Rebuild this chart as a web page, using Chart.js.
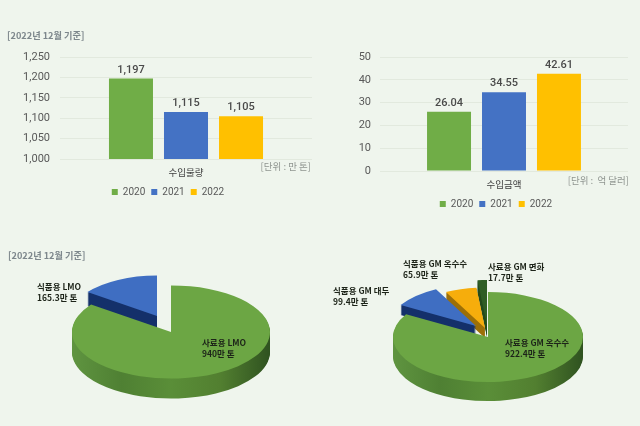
<!DOCTYPE html>
<html>
<head>
<meta charset="utf-8">
<script src="https://cdn.jsdelivr.net/npm/chart.js@4"></script>
<style>
  html, body { margin: 0; padding: 0; background: #eff5ed; }
  #page { position: relative; width: 640px; height: 426px; overflow: hidden; background: #eff5ed;
          font-family: "Noto Sans CJK KR", "Noto Sans", sans-serif; }
  canvas { position: absolute; }
  .txt { position: absolute; white-space: pre; line-height: 11px; }
  .head { font-size: 9.2px; font-weight: 700; color: #7d878c; }
  .unit { font-size: 9.5px; color: #8f9590; }
  .pie { font-size: 8.5px; font-weight: 700; color: #1d2419; }
</style>
</head>
<body>
<div id="page">
  <canvas id="volume" width="320" height="167" style="left:0;top:40px"></canvas>
  <canvas id="amount" width="320" height="189" style="left:320px;top:30px"></canvas>
  <canvas id="pieLmo" width="260" height="260" style="left:41px;top:202px"></canvas>
  <canvas id="pieGm" width="260" height="260" style="left:358px;top:207px"></canvas>
</div>
<script>
const years = ['2020', '2021', '2022'];
const yearColors = ['#70ad47', '#4472c4', '#ffc000'];

const volumeCategory = ['수입물량'];
const volumeValues = [1197, 1115, 1105];
const volumeLabels = ['1,197', '1,115', '1,105'];
const volumeTicks = ['1,000', '1,050', '1,100', '1,150', '1,200', '1,250'];

const amountCategory = ['수입금액'];
const amountValues = [26.04, 34.55, 42.61];
const amountLabels = ['26.04', '34.55', '42.61'];

const lmoNames = ['사료용 LMO', '식품용 LMO'];
const lmoTexts = ['940만 톤', '165.3만 톤'];
const lmoValues = [940, 165.3];

const gmNames = ['사료용 GM 옥수수', '식품용 GM 대두', '식품용 GM 옥수수', '사료용 GM 면화'];
const gmTexts = ['922.4만 톤', '99.4만 톤', '65.9만 톤', '17.7만 톤'];
const gmValues = [922.4, 99.4, 65.9, 17.7];

const labelColor = '#595959';
const numFont = 'Roboto, "Noto Sans CJK KR", sans-serif';

// value text above each bar
const barValues = {
  id: 'barValues',
  afterDatasetsDraw(chart, args, opts) {
    const ctx = chart.ctx;
    ctx.save();
    ctx.font = '500 11px ' + numFont;
    ctx.fillStyle = '#4a4a4a';
    ctx.textAlign = 'center';
    ctx.textBaseline = 'bottom';
    chart.data.datasets.forEach((ds, i) => {
      const bar = chart.getDatasetMeta(i).data[0];
      ctx.fillText(opts.texts[i], bar.x, bar.y - 3);
    });
    ctx.restore();
  }
};

// legend is not centred on the plot in the original, so move it sideways
const legendShift = {
  id: 'legendShift',
  afterLayout(chart, args, opts) {
    chart.legend.left += opts.x;
    chart.legend.right += opts.x;
  }
};

function barChart(id, category, values, texts, yOpts, barWidthShare, legendX, padTop, padRight) {
  return new Chart(document.getElementById(id), {
    type: 'bar',
    data: {
      labels: category,
      datasets: years.map((y, i) => ({
        label: y,
        data: [values[i]],
        backgroundColor: yearColors[i],
        categoryPercentage: barWidthShare,
        barPercentage: 0.8
      }))
    },
    options: {
      responsive: false,
      animation: false,
      events: [],
      layout: { padding: { top: padTop, right: padRight, left: 0, bottom: 0 } },
      scales: {
        x: {
          grid: { display: false, drawTicks: false },
          border: { display: false },
          afterFit(scale) { scale.height = 22; },
          ticks: { color: '#404040', font: { size: 9.5, family: '"Noto Sans CJK KR"' }, padding: 8 }
        },
        y: Object.assign({
          grid: { color: '#e2e9de', drawTicks: false },
          border: { display: false },
          afterFit(scale) { scale.width = 60; }
        }, yOpts)
      },
      plugins: {
        tooltip: { enabled: false },
        legend: {
          position: 'bottom',
          labels: {
            usePointStyle: true, pointStyle: 'rect', boxWidth: 6, boxHeight: 6,
            color: labelColor, padding: 6, font: { size: 10, family: numFont }
          }
        },
        barValues: { texts: texts },
        legendShift: { x: legendX }
      }
    },
    plugins: [barValues, legendShift]
  });
}

barChart('volume', volumeCategory, volumeValues, volumeLabels, {
  min: 1000, max: 1250,
  ticks: {
    stepSize: 50, color: labelColor, padding: 10,
    font: { size: 11, family: numFont },
    callback: (v, i) => volumeTicks[i]
  }
}, 0.655, 12, 17, 8);

barChart('amount', amountCategory, amountValues, amountLabels, {
  min: 0, max: 50,
  ticks: {
    stepSize: 10, color: labelColor, padding: 9,
    font: { size: 11, family: numFont }
  }
}, 0.665, 22, 27, 12);

// fake 3D: squash the arcs, then stack darker copies underneath
const pie3d = {
  id: 'pie3d',
  beforeDatasetsDraw(chart, args, opts) {
    const ctx = chart.ctx;
    const arcs = chart.getDatasetMeta(0).data;
    const cx = arcs[0].x, cy = arcs[0].y, r = arcs[0].outerRadius;
    const k = opts.squash;
    const paint = (arc, color) => {
      const base = arc.options;
      arc.options = Object.assign({}, base, { backgroundColor: color, borderWidth: 0 });
      arc.draw(ctx);
      arc.options = base;
    };
    ctx.save();
    ctx.translate(cx, cy);
    ctx.scale(1, k);
    ctx.translate(-cx, -cy);
    for (let i = arcs.length - 1; i >= 0; i--) {
      const [dx, dy] = opts.explode[i];
      const s = opts.shrink[i];
      const shade = ctx.createLinearGradient(cx - r, 0, cx + r, 0);
      opts.sides[i].forEach((c, n, all) => shade.addColorStop(n / (all.length - 1), c));
      ctx.save();
      ctx.translate(dx + cx, dy / k + cy);
      ctx.scale(s, s);
      ctx.translate(-cx, -cy);
      for (let d = opts.depth[i]; d > 0; d--) {
        ctx.save();
        ctx.translate(0, d / (k * s));
        paint(arcs[i], shade);
        ctx.restore();
      }
      paint(arcs[i], opts.tops[i]);
      ctx.restore();
    }
    ctx.restore();
    return false;
  }
};

function pieChart(id, names, values, radius, pieOpts) {
  return new Chart(document.getElementById(id), {
    type: 'pie',
    data: { labels: names, datasets: [{ data: values, backgroundColor: pieOpts.tops, borderWidth: 0 }] },
    options: {
      responsive: false,
      animation: false,
      events: [],
      radius: radius,
      plugins: { legend: { display: false }, tooltip: { enabled: false }, pie3d: pieOpts }
    },
    plugins: [pie3d]
  });
}

const greenSide = ['#5f9440', '#4f8033', '#5a8e38', '#527f30', '#2f5220'];

pieChart('pieLmo', lmoNames, lmoValues, 99, {
  squash: 0.47, depth: [20, 14],
  explode: [[0, 0], [-14, -16]],
  shrink: [1, 0.87],
  tops: ['#6ca644', '#3f6ec2'],
  sides: [greenSide, ['#14306a', '#14306a']]
});

pieChart('pieGm', gmNames, gmValues, 95, {
  squash: 0.474, depth: [19, 10, 10, 12],
  explode: [[0, 0], [-12, -11], [-3, -9], [-1, -12]],
  shrink: [1, 0.92, 0.9, 1],
  tops: ['#6ca644', '#3f6ec2', '#f6ad0c', '#2f5d25'],
  sides: [greenSide, ['#14306a', '#14306a'], ['#9c6f08', '#9c6f08'], ['#234a1c', '#234a1c']]
});

// plain text on the page
function addText(text, cls, x, y, right) {
  const el = document.createElement('div');
  el.className = 'txt ' + cls;
  el.textContent = text;
  el.style.top = y + 'px';
  if (right) el.style.right = (640 - x) + 'px';
  else el.style.left = x + 'px';
  document.getElementById('page').appendChild(el);
}

addText('[2022년 12월 기준]', 'head', 7, 30);
addText('[2022년 12월 기준]', 'head', 8, 250);
addText('[단위 : 만 톤]', 'unit', 311, 161, true);
addText('[단위 :  억 달러]', 'unit', 629, 175, true);

addText(lmoNames[1] + '\n' + lmoTexts[1], 'pie', 37, 281);
addText(lmoNames[0] + '\n' + lmoTexts[0], 'pie', 202, 337);
addText(gmNames[2] + '\n' + gmTexts[2], 'pie', 403, 258);
addText(gmNames[3] + '\n' + gmTexts[3], 'pie', 488, 261);
addText(gmNames[1] + '\n' + gmTexts[1], 'pie', 333, 285);
addText(gmNames[0] + '\n' + gmTexts[0], 'pie', 505, 337);
</script>
</body>
</html>
